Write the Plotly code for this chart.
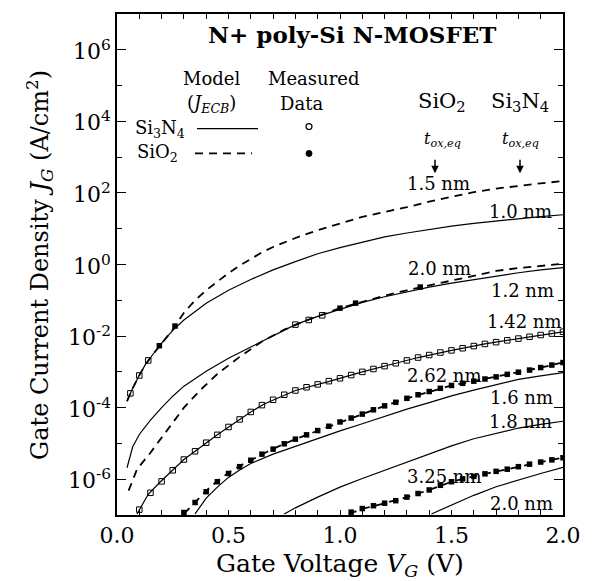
import plotly.graph_objects as go

# ---------------- data (gate voltage in V, log10 of J in A/cm^2) ----------------
# Model curves, Si3N4 (solid)
si3n4_10_V = [0.045, 0.067, 0.097, 0.127, 0.165, 0.2, 0.25, 0.3, 0.4, 0.5, 0.6, 0.7, 0.8, 0.9,
              1.0, 1.1, 1.2, 1.3, 1.4, 1.5, 1.6, 1.7, 1.8, 1.9, 2.0]
si3n4_10_logJ = [-3.82, -3.5, -3.13, -2.8, -2.48, -2.2, -1.84, -1.55, -1.08, -0.72, -0.42, -0.15, 0.08, 0.3,
                 0.47, 0.63, 0.77, 0.88, 0.98, 1.07, 1.15, 1.22, 1.29, 1.34, 1.39]

si3n4_12_V = [0.045, 0.07, 0.1, 0.15, 0.2, 0.25, 0.3, 0.4, 0.5, 0.6, 0.7, 0.8, 0.9, 1.0, 1.1, 1.2,
              1.3, 1.4, 1.5, 1.6, 1.7, 1.8, 1.9, 2.0]
si3n4_12_logJ = [-5.68, -5.1, -4.75, -4.35, -4.0, -3.68, -3.4, -2.98, -2.62, -2.3, -2.0, -1.68, -1.45, -1.25,
                 -1.06, -0.9, -0.76, -0.63, -0.52, -0.42, -0.32, -0.23, -0.15, -0.09]

si3n4_142_V = [0.09, 0.14, 0.19, 0.25, 0.3, 0.35, 0.4, 0.45, 0.55, 0.6, 0.66, 0.8, 0.96, 1.1, 1.25,
               1.35, 1.5, 1.65, 1.8, 2.0]
si3n4_142_logJ = [-6.97, -6.42, -6.1, -5.75, -5.45, -5.22, -4.98, -4.76, -4.33, -4.12, -3.9, -3.52, -3.25,
                  -3.0, -2.76, -2.6, -2.4, -2.22, -2.07, -1.88]

si3n4_16_V = [0.35, 0.4, 0.45, 0.5, 0.55, 0.6, 0.7, 0.8, 0.9, 1.0, 1.1, 1.2, 1.3, 1.4, 1.5, 1.6, 1.7,
              1.8, 1.9, 2.0]
si3n4_16_logJ = [-6.97, -6.53, -6.22, -5.95, -5.74, -5.56, -5.3, -5.08, -4.86, -4.65, -4.45, -4.24, -4.04,
                 -3.86, -3.67, -3.51, -3.36, -3.21, -3.11, -3.02]

si3n4_18_V = [0.75, 0.8, 0.9, 1.0, 1.1, 1.2, 1.3, 1.4, 1.5, 1.6, 1.7, 1.8, 1.9, 2.0]
si3n4_18_logJ = [-6.97, -6.8, -6.5, -6.22, -5.98, -5.75, -5.52, -5.3, -5.07, -4.87, -4.71, -4.57, -4.47, -4.38]

si3n4_20_V = [1.41, 1.5, 1.6, 1.7, 1.8, 1.9, 2.0]
si3n4_20_logJ = [-6.97, -6.72, -6.45, -6.21, -6.02, -5.84, -5.67]

# Model curves, SiO2 (dashed)
sio2_15_V = [0.045, 0.067, 0.097, 0.127, 0.165, 0.2, 0.25, 0.3, 0.35, 0.4, 0.45, 0.5, 0.55, 0.6, 0.65,
             0.7, 0.8, 0.9, 1.0, 1.1, 1.2, 1.3, 1.4, 1.5, 1.6, 1.7, 1.8, 1.9, 2.0]
sio2_15_logJ = [-3.82, -3.5, -3.13, -2.8, -2.48, -2.2, -1.82, -1.35, -1.0, -0.72, -0.47, -0.24, -0.03, 0.16,
                0.34, 0.49, 0.74, 0.96, 1.15, 1.33, 1.47, 1.6, 1.76, 1.9, 2.02, 2.12, 2.2, 2.27, 2.33]

sio2_20_V = [0.052, 0.09, 0.15, 0.2, 0.25, 0.3, 0.375, 0.45, 0.55, 0.65, 0.75, 0.85, 1.0, 1.1, 1.2, 1.3,
             1.4, 1.5, 1.6, 1.7, 1.8, 1.9, 2.0]
sio2_20_logJ = [-6.32, -5.72, -5.26, -4.84, -4.43, -4.0, -3.5, -3.06, -2.58, -2.15, -1.82, -1.56, -1.22,
                -1.04, -0.87, -0.72, -0.58, -0.44, -0.3, -0.18, -0.1, -0.04, 0.02]

sio2_262_V = [0.3, 0.35, 0.4, 0.45, 0.5, 0.55, 0.6, 0.65, 0.7, 0.8, 0.9, 1.0, 1.1, 1.2, 1.3, 1.4, 1.5,
              1.6, 1.7, 1.8, 1.9, 2.0]
sio2_262_logJ = [-6.97, -6.65, -6.32, -6.05, -5.82, -5.63, -5.47, -5.3, -5.15, -4.88, -4.65, -4.4, -4.18,
                 -3.95, -3.74, -3.55, -3.38, -3.26, -3.14, -3.01, -2.88, -2.74]

sio2_325_V = [1.04, 1.1, 1.2, 1.3, 1.4, 1.5, 1.6, 1.7, 1.8, 1.9, 2.0]
sio2_325_logJ = [-6.97, -6.83, -6.67, -6.5, -6.3, -6.07, -5.92, -5.78, -5.65, -5.52, -5.4]

# Measured data, Si3N4 (open symbols)
meas_si3n4_142_V = [0.1, 0.15, 0.2, 0.25, 0.3, 0.35, 0.4, 0.45, 0.5, 0.55, 0.6, 0.65, 0.7, 0.75, 0.8,
                    0.85, 0.9, 0.95, 1.0, 1.05, 1.1, 1.15, 1.2, 1.25, 1.3, 1.35, 1.4, 1.45, 1.5, 1.55,
                    1.6, 1.65, 1.7, 1.75, 1.8, 1.85, 1.9, 1.95, 2.0]
meas_si3n4_142_logJ = [-6.85, -6.38, -6.06, -5.75, -5.45, -5.22, -4.98, -4.76, -4.54, -4.33, -4.12, -3.93,
                       -3.78, -3.64, -3.52, -3.43, -3.35, -3.26, -3.18, -3.09, -3.0, -2.92, -2.84, -2.76,
                       -2.68, -2.6, -2.53, -2.46, -2.4, -2.34, -2.28, -2.22, -2.17, -2.12, -2.07, -2.02,
                       -1.97, -1.93, -1.88]
meas_si3n4_10_V = [0.06, 0.1, 0.14]
meas_si3n4_10_logJ = [-3.6, -3.1, -2.68]
meas_si3n4_12_V = [0.8, 0.86, 0.92]
meas_si3n4_12_logJ = [-1.68, -1.55, -1.42]

# Measured data, SiO2 (filled symbols)
meas_sio2_262_V = [0.3, 0.35, 0.4, 0.45, 0.5, 0.55, 0.6, 0.65, 0.7, 0.75, 0.8, 0.85, 0.9, 0.95, 1.0, 1.05,
                   1.1, 1.15, 1.2, 1.25, 1.3, 1.35, 1.4, 1.45, 1.5, 1.55, 1.6, 1.65, 1.7, 1.75, 1.8, 1.85,
                   1.9, 1.95, 2.0]
meas_sio2_262_logJ = [-6.93, -6.65, -6.35, -6.07, -5.84, -5.65, -5.47, -5.3, -5.16, -5.01, -4.88, -4.76,
                      -4.64, -4.52, -4.4, -4.29, -4.18, -4.06, -3.95, -3.85, -3.74, -3.64, -3.55, -3.46,
                      -3.38, -3.32, -3.26, -3.2, -3.14, -3.07, -3.01, -2.95, -2.88, -2.81, -2.74]
meas_sio2_325_V = [1.05, 1.1, 1.15, 1.2, 1.25, 1.3, 1.35, 1.4, 1.45, 1.5, 1.55, 1.6, 1.65, 1.7, 1.75, 1.8,
                   1.85, 1.9, 1.95, 2.0]
meas_sio2_325_logJ = [-6.92, -6.82, -6.74, -6.67, -6.6, -6.5, -6.4, -6.3, -6.17, -6.07, -5.99, -5.92, -5.85,
                      -5.78, -5.72, -5.65, -5.58, -5.52, -5.46, -5.4]
meas_sio2_15_V = [0.19, 0.26]
meas_sio2_15_logJ = [-2.27, -1.72]
meas_sio2_20_V = [1.0, 1.07, 1.36]
meas_sio2_20_logJ = [-1.22, -1.08, -0.63]

# Axis ticks
x_tickvals = [0.0, 0.5, 1.0, 1.5, 2.0]
x_ticktext = ["0.0", "0.5", "1.0", "1.5", "2.0"]
y_major_exp = [-6, -4, -2, 0, 2, 4, 6]
y_major_text = ["10<sup>-6</sup>", "10<sup>-4</sup>", "10<sup>-2</sup>", "10<sup>0</sup>",
                "10<sup>2</sup>", "10<sup>4</sup>", "10<sup>6</sup>"]
y_minor_exp = [-5, -3, -1, 1, 3, 5]

# Curve labels
sio2_labels = ["1.5 nm", "2.0 nm", "2.62 nm", "3.25 nm"]
si3n4_labels = ["1.0 nm", "1.2 nm", "1.42 nm", "1.6 nm", "1.8 nm", "2.0 nm"]

# ---------------- figure ----------------
FONT = "DejaVu Serif"
OFF = 8                      # page body margin of the html page
W, H = 586, 573
ML, MR, MT, MB = 109, 31, 4, 66
PW, PH = W - ML - MR, H - MT - MB


def px(x):   # page pixel -> paper
    return (x - OFF - ML) / PW


def py(y):
    return (H - MB - (y - OFF)) / PH


def J(logs):
    return [10 ** v for v in logs]


fig = go.Figure()

solid_curves = [(si3n4_10_V, si3n4_10_logJ), (si3n4_12_V, si3n4_12_logJ), (si3n4_142_V, si3n4_142_logJ),
                (si3n4_16_V, si3n4_16_logJ), (si3n4_18_V, si3n4_18_logJ), (si3n4_20_V, si3n4_20_logJ)]
dashed_curves = [(sio2_15_V, sio2_15_logJ), (sio2_20_V, sio2_20_logJ), (sio2_262_V, sio2_262_logJ),
                 (sio2_325_V, sio2_325_logJ)]

for v, l in solid_curves:
    fig.add_trace(go.Scatter(x=v, y=J(l), mode="lines", line=dict(color="black", width=1.2),
                             showlegend=False, hoverinfo="skip"))
for v, l in dashed_curves:
    fig.add_trace(go.Scatter(x=v, y=J(l), mode="lines",
                             line=dict(color="black", width=1.8, dash="8px,6px"),
                             showlegend=False, hoverinfo="skip"))

open_sets = [(meas_si3n4_142_V, meas_si3n4_142_logJ), (meas_si3n4_10_V, meas_si3n4_10_logJ),
             (meas_si3n4_12_V, meas_si3n4_12_logJ)]
filled_sets = [(meas_sio2_262_V, meas_sio2_262_logJ), (meas_sio2_325_V, meas_sio2_325_logJ),
               (meas_sio2_15_V, meas_sio2_15_logJ), (meas_sio2_20_V, meas_sio2_20_logJ)]
for v, l in open_sets:
    fig.add_trace(go.Scatter(x=v, y=J(l), mode="markers",
                             marker=dict(symbol="square-open", size=5.5, color="black", line=dict(width=1)),
                             showlegend=False, hoverinfo="skip"))
for v, l in filled_sets:
    fig.add_trace(go.Scatter(x=v, y=J(l), mode="markers",
                             marker=dict(symbol="square", size=5.5, color="black"),
                             showlegend=False, hoverinfo="skip"))

annotations = []


def text(x, y, s, size=17, bold=False, xanchor="center"):
    annotations.append(dict(x=px(x), y=py(y), xref="paper", yref="paper", text=s, showarrow=False,
                            xanchor=xanchor, yanchor="middle",
                            font=dict(family=FONT, size=size, color="black",
                                      weight="bold" if bold else "normal")))


# title and legend block
text(352, 33, "N+ poly-Si N-MOSFET", size=23, bold=True)
text(211, 77, "Model", size=18)
text(313, 77, "Measured", size=18)
text(211, 102, "(<i>J</i><sub><i>ECB</i></sub>)", size=18)
text(301, 102, "Data", size=18)
text(160, 127, "Si<sub>3</sub>N<sub>4</sub>", size=18)
text(157, 152, "SiO<sub>2</sub>", size=18)
text(442, 100, "SiO<sub>2</sub>", size=21)
text(520, 100, "Si<sub>3</sub>N<sub>4</sub>", size=21)
text(442, 138, "<i>t</i><sub><i>ox,eq</i></sub>", size=16)
text(520, 138, "<i>t</i><sub><i>ox,eq</i></sub>", size=16)

# curve labels
sio2_label_pos = [(438, 182), (439, 268), (444, 375), (444, 476)]
si3n4_label_pos = [(520, 210), (522, 290), (524, 321), (521, 397), (520, 421), (521, 503)]
for s, (x, y) in zip(sio2_labels, sio2_label_pos):
    text(x, y, s, size=18)
for s, (x, y) in zip(si3n4_labels, si3n4_label_pos):
    text(x, y, s, size=18)

# arrows
for ax_x in (435, 520):
    annotations.append(dict(x=px(ax_x), y=py(172), xref="paper", yref="paper", ax=0, ay=-15,
                            text="", showarrow=True, arrowhead=2, arrowsize=1, arrowwidth=1.5,
                            arrowcolor="black"))

# y tick labels (placed next to the axis, anchored on their decade)
for e, s in zip(y_major_exp, y_major_text):
    annotations.append(dict(x=px(113), y=e, xref="paper", yref="y", text=s, showarrow=False,
                            xanchor="right", yanchor="middle",
                            font=dict(family=FONT, size=22, color="black")))

# axis titles
text(340, 565, "Gate Voltage <i>V</i><sub><i>G</i></sub> (V)", size=25)
annotations.append(dict(x=px(40), y=py(264), xref="paper", yref="paper", textangle=-90,
                        text="Gate Current Density <i>J</i><sub><i>G</i></sub> (A/cm<sup>2</sup>)",
                        showarrow=False, xanchor="center", yanchor="middle",
                        font=dict(family=FONT, size=24, color="black")))

shapes = [
    dict(type="line", xref="paper", yref="paper", x0=px(197), x1=px(258), y0=py(127), y1=py(127),
         line=dict(color="black", width=1.3)),
    dict(type="line", xref="paper", yref="paper", x0=px(195), x1=px(252), y0=py(152), y1=py(152),
         line=dict(color="black", width=1.8, dash="8px,6px")),
    dict(type="circle", xref="paper", yref="paper", x0=px(306), x1=px(312), y0=py(128), y1=py(122),
         line=dict(color="black", width=1.2)),
    dict(type="circle", xref="paper", yref="paper", x0=px(306), x1=px(312), y0=py(155), y1=py(149),
         line=dict(color="black", width=1), fillcolor="black"),
]

fig.update_layout(
    width=W, height=H,
    margin=dict(l=ML, r=MR, t=MT, b=MB),
    paper_bgcolor="white", plot_bgcolor="white",
    showlegend=False,
    annotations=annotations,
    shapes=shapes,
    xaxis=dict(range=[0, 2], showgrid=False, zeroline=False, showline=True, linecolor="black",
               linewidth=1.5, mirror="allticks", ticks="inside", ticklen=5, tickwidth=1.2,
               tickcolor="black", tickmode="array", tickvals=x_tickvals, ticktext=x_ticktext,
               tickfont=dict(family=FONT, size=22, color="black"),
               minor=dict(dtick=0.1, tick0=0, ticks="inside", ticklen=5, tickwidth=1.2,
                          tickcolor="black")),
    yaxis=dict(type="log", range=[-7, 7], showgrid=False, zeroline=False, showline=True,
               linecolor="black", linewidth=1.5, mirror="allticks", ticks="inside", ticklen=9,
               tickwidth=1.2, tickcolor="black", tickmode="array",
               tickvals=[10.0 ** e for e in y_major_exp], showticklabels=False,
               minor=dict(tickmode="array", tickvals=[10.0 ** e for e in y_minor_exp], ticks="inside",
                          ticklen=5, tickwidth=1.2, tickcolor="black")),
)

fig.write_html("out.html")
